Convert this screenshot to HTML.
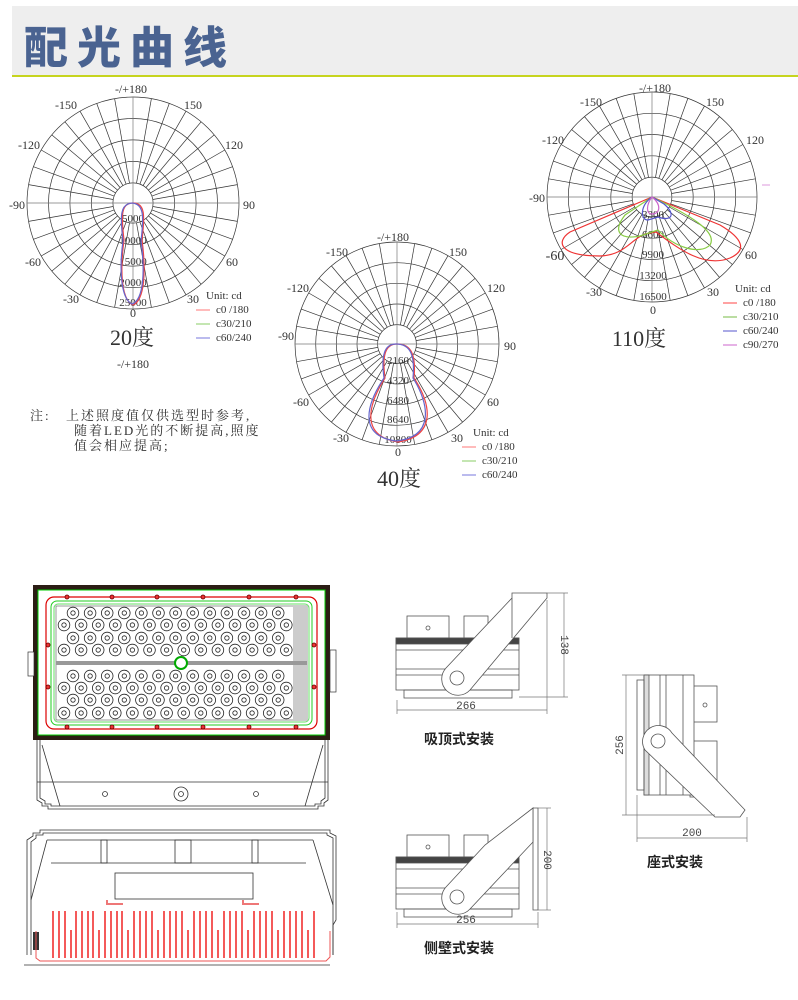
<!DOCTYPE html>
<html><head><meta charset="utf-8">
<style>
html,body{margin:0;padding:0;background:#fff;width:798px;height:1000px;overflow:hidden}
svg{display:block}
.t{font-family:"Liberation Serif","Noto Serif CJK SC",serif;fill:#333;font-size:12px}
.cjk{font-family:"Liberation Sans","Noto Sans CJK SC",sans-serif;font-weight:bold;fill:#222}
</style></head><body>
<svg id="s" width="798" height="1000" viewBox="0 0 798 1000" xmlns="http://www.w3.org/2000/svg">
<rect x="12" y="6" width="786" height="69" fill="#eeeeee"/>
<rect x="12" y="75" width="786" height="2" fill="#c6d41e"/>
<text x="24" y="63" style="font-family:'Noto Sans CJK SC',sans-serif;font-weight:900;font-size:44px;fill:#4a6391;letter-spacing:9px">配光曲线</text>
<g id="charts"></g>

<g class="t" text-anchor="middle">
<text x="131" y="93">-/+180</text><text x="66" y="109">-150</text><text x="193" y="109">150</text>
<text x="29" y="149">-120</text><text x="234" y="149">120</text><text x="17" y="209">-90</text><text x="249" y="209">90</text>
<text x="33" y="266">-60</text><text x="232" y="266">60</text><text x="71" y="303">-30</text><text x="193" y="303">30</text>
<text x="133" y="317">0</text>
<text x="133" y="368">-/+180</text>
<text x="393" y="241">-/+180</text><text x="337" y="256">-150</text><text x="458" y="256">150</text>
<text x="298" y="292">-120</text><text x="496" y="292">120</text><text x="286" y="340">-90</text><text x="510" y="350">90</text>
<text x="301" y="406">-60</text><text x="493" y="406">60</text><text x="341" y="442">-30</text><text x="457" y="442">30</text>
<text x="398" y="456">0</text>
<text x="655" y="92">-/+180</text><text x="591" y="106">-150</text><text x="715" y="106">150</text>
<text x="553" y="144">-120</text><text x="755" y="144">120</text><text x="537" y="202">-90</text>
<text x="555" y="260" style="font-size:14px">-60</text><text x="751" y="259">60</text><text x="594" y="296">-30</text><text x="713" y="296">30</text>
<text x="653" y="314">0</text>
</g>
<g class="t" text-anchor="middle" style="font-size:11px">
<text x="133" y="222">5000</text><text x="133" y="244">10000</text><text x="133" y="265">15000</text><text x="133" y="286">20000</text><text x="133" y="306">25000</text>
<text x="398" y="364">2160</text><text x="398" y="384">4320</text><text x="398" y="404">6480</text><text x="398" y="423">8640</text><text x="398" y="443">10800</text>
<text x="653" y="218">3300</text><text x="653" y="238">6600</text><text x="653" y="258">9900</text><text x="653" y="279">13200</text><text x="653" y="300">16500</text>
</g>
<g class="t" style="font-size:11px">
<text x="206" y="299">Unit: cd</text><text x="216" y="313">c0 /180</text><text x="216" y="327">c30/210</text><text x="216" y="341">c60/240</text>
<text x="473" y="436">Unit: cd</text><text x="482" y="450">c0 /180</text><text x="482" y="464">c30/210</text><text x="482" y="478">c60/240</text>
<text x="735" y="292">Unit: cd</text><text x="743" y="306">c0 /180</text><text x="743" y="320">c30/210</text><text x="743" y="334">c60/240</text><text x="743" y="348">c90/270</text>
</g>
<g stroke-width="1">
<line x1="196" y1="310" x2="210" y2="310" stroke="#f77"/><line x1="196" y1="324" x2="210" y2="324" stroke="#8c6"/><line x1="196" y1="338" x2="210" y2="338" stroke="#77d"/>
<line x1="462" y1="447" x2="476" y2="447" stroke="#f77"/><line x1="462" y1="461" x2="476" y2="461" stroke="#8c6"/><line x1="462" y1="475" x2="476" y2="475" stroke="#77d"/>
<line x1="723" y1="303" x2="737" y2="303" stroke="#f44"/><line x1="723" y1="317" x2="737" y2="317" stroke="#7b4"/><line x1="723" y1="331" x2="737" y2="331" stroke="#55c"/><line x1="723" y1="345" x2="737" y2="345" stroke="#c6c"/>
<line x1="762" y1="185" x2="770" y2="185" stroke="#d9d"/>
</g>
<g class="t" style="font-size:22px" text-anchor="middle">
<text x="132" y="345">20度</text><text x="399" y="486">40度</text><text x="639" y="346">110度</text>
</g>
<g class="t" style="font-size:13px;letter-spacing:2px">
<text x="30" y="420">注:</text>
<text x="66" y="420">上述照度值仅供选型时参考,</text>
<text x="74" y="435">随着LED光的不断提高,照度</text>
<text x="74" y="450">值会相应提高;</text>
</g>

<g fill="none" stroke-width="1.2">
<path d="M133,203 C121,203 121,215 124,240 C120,270 121,300 133,305 C145,300 146,270 142,240 C145,215 145,203 133,203" stroke="#e44"/>
<path d="M132,203 C120,204 120,216 123,241 C119,270 121,299 132,304 C144,300 145,270 141,241 C144,216 144,204 132,203" stroke="#66c"/>
<path d="M397,344 C385,344 382,356 385,378 C368,405 360,436 398,442 C436,436 432,405 414,378 C416,356 412,344 397,344" stroke="#e44"/>
<path d="M396,344 C384,344 381,356 384,378 C366,405 358,436 396,441 C434,437 430,405 413,378 C415,356 411,344 396,344" stroke="#66c"/>
<path d="M652,197 L570,232 C555,242 560,256 600,256 C625,255 630,240 645,234 L656,232 C680,250 705,268 730,258 C748,250 742,238 720,225 Z" stroke="#e33"/>
<path d="M652,197 L625,215 C612,232 620,240 640,236 L658,230 C675,248 700,255 710,245 C718,232 690,215 652,197 Z" stroke="#8c4"/>
<path d="M652,197 C640,205 640,220 648,220 L658,217 C672,222 676,214 664,204 Z" stroke="#55c"/>
<path d="M652,197 C646,205 646,214 652,214 C660,214 662,205 652,197 Z" stroke="#c6c"/>
</g>

<rect x="33" y="585" width="297" height="155" fill="#2b1d14"/>
<rect x="38" y="590" width="287" height="145" fill="#fff" stroke="#0c0" stroke-width="1"/>
<rect x="46" y="597" width="271" height="132" rx="8" fill="none" stroke="#d00" stroke-width="1.2"/>
<rect x="51" y="601" width="261" height="124" rx="6" fill="none" stroke="#2c2" stroke-width="1"/>
<rect x="54" y="604" width="255" height="118" rx="4" fill="none" stroke="#6d6" stroke-width="1"/>
<rect x="56" y="606" width="251" height="114" fill="#fff" stroke="#555" stroke-width="0.6"/>
<rect x="293" y="606" width="14" height="114" fill="#ccc"/>
<rect x="56" y="661" width="251" height="4" fill="#999"/>
<circle cx="181" cy="663" r="6" fill="#fff" stroke="#0a0" stroke-width="2"/>
<g id="leds" fill="none" stroke="#222" stroke-width="0.8"></g>
<rect x="28" y="652" width="6" height="24" fill="#fff" stroke="#333" stroke-width="0.7"/>
<rect x="330" y="650" width="6" height="42" fill="#fff" stroke="#333" stroke-width="0.7"/>
<g fill="none" stroke="#333" stroke-width="0.8">
<path d="M37,740 L37,800 L42,803 L42,806 L48,806 L48,809 L318,809 L318,806 L324,806 L324,803 L328,800 L328,740"/>
<path d="M40,740 L40,798 L45,801 L45,804 L51,804 L51,806 L315,806 L315,804 L321,804 L321,801 L325,798 L325,740"/>
<line x1="37" y1="782" x2="328" y2="782"/>
<line x1="42" y1="745" x2="60" y2="806"/><line x1="323" y1="745" x2="305" y2="806"/>
<circle cx="105" cy="794" r="2.5"/><circle cx="256" cy="794" r="2.5"/>
<circle cx="181" cy="794" r="7"/><circle cx="181" cy="794" r="2.5"/>
</g>
<g fill="none" stroke="#333" stroke-width="0.8">
<path d="M27,955 L27,840 L33,836 L33,833 L40,833 L40,830 L330,830 L330,833 L336,836 L336,920 L333,925 L333,955"/>
<path d="M31,955 L31,842 L36,838 L36,835 L43,835 L43,833 L327,833 L327,835 L333,838 L333,955"/>
<line x1="47" y1="840" x2="313" y2="840"/><line x1="51" y1="863" x2="306" y2="863"/>
<line x1="47" y1="840" x2="31" y2="900"/><line x1="313" y1="840" x2="333" y2="905"/>
<rect x="101" y="840" width="6" height="23"/><rect x="175" y="840" width="16" height="23"/><rect x="252" y="840" width="6" height="23"/>
<rect x="115" y="873" width="138" height="26"/>
<line x1="24" y1="965" x2="330" y2="965"/>
</g>
<rect x="33" y="932" width="6" height="18" fill="#333"/>
<g id="fins" stroke="#e00" stroke-width="1.3"></g>
<path d="M36,931 L36,958 L40,961 L326,961 L330,957 L330,931" fill="none" stroke="#e55" stroke-width="1"/>
<path d="M107,900 L107,904 L123,904 M243,900 L243,904 L259,904" stroke="#e77" stroke-width="2" fill="none"/>

<defs>
<g id="body" fill="none" stroke="#555" stroke-width="0.8">
<rect x="407" y="616" width="42" height="22"/><rect x="464" y="616" width="24" height="22"/>
<circle cx="428" cy="628" r="2"/>
<rect x="396" y="638" width="123" height="52" fill="#fff"/>
<rect x="396" y="638" width="123" height="6" fill="#444"/>
<line x1="396" y1="650" x2="519" y2="650"/><line x1="396" y1="669" x2="519" y2="669"/><line x1="396" y1="675" x2="519" y2="675"/>
<rect x="404" y="690" width="108" height="8"/>
</g>
</defs>
<use href="#body"/>
<g fill="#fff" stroke="#555" stroke-width="0.8">
<path d="M512,593 L547,593 L547,598 L470,690 A14,14 0 0 1 446,668 L512,598 Z"/>
<line x1="512" y1="598" x2="512" y2="638"/>
<circle cx="457" cy="678" r="7"/>
</g>
<g stroke="#777" stroke-width="0.7" fill="none">
<line x1="547" y1="593" x2="568" y2="593"/><line x1="519" y1="697" x2="568" y2="697"/>
<line x1="564" y1="593" x2="564" y2="697"/>
<line x1="397" y1="700" x2="397" y2="714"/><line x1="547" y1="600" x2="547" y2="714"/>
<line x1="397" y1="710" x2="547" y2="710"/>
</g>
<text x="466" y="709" text-anchor="middle" style="font-family:'Liberation Mono',monospace;font-size:11px;fill:#444">266</text>
<text transform="translate(561,645) rotate(90)" text-anchor="middle" style="font-family:'Liberation Mono',monospace;font-size:11px;fill:#444">138</text>
<text x="424" y="744" class="cjk" style="font-size:14px">吸顶式安装</text>

<use href="#body" transform="translate(0,219)"/>
<g fill="#fff" stroke="#555" stroke-width="0.8">
<path d="M533,808 L538,808 L538,910 L533,910 Z"/>
<path d="M533,808 L533,842 L470,909 A14,14 0 0 1 446,887 L485,845 Z"/>
<circle cx="457" cy="897" r="7"/>
</g>
<g stroke="#777" stroke-width="0.7" fill="none">
<line x1="538" y1="808" x2="551" y2="808"/><line x1="538" y1="910" x2="551" y2="910"/>
<line x1="547" y1="808" x2="547" y2="910"/>
<line x1="397" y1="912" x2="397" y2="928"/><line x1="538" y1="912" x2="538" y2="928"/>
<line x1="397" y1="924" x2="538" y2="924"/>
</g>
<text x="466" y="923" text-anchor="middle" style="font-family:'Liberation Mono',monospace;font-size:11px;fill:#444">256</text>
<text transform="translate(544,860) rotate(90)" text-anchor="middle" style="font-family:'Liberation Mono',monospace;font-size:11px;fill:#444">200</text>
<text x="424" y="953" class="cjk" style="font-size:14px">侧壁式安装</text>

<g fill="none" stroke="#555" stroke-width="0.8">
<rect x="690" y="686" width="27" height="36"/><rect x="690" y="741" width="27" height="56"/>
<circle cx="705" cy="705" r="2"/>
<rect x="644" y="675" width="50" height="120" fill="#fff"/>
<rect x="644" y="675" width="5" height="120" fill="#ddd"/>
<line x1="660" y1="675" x2="660" y2="795"/><line x1="666" y1="675" x2="666" y2="795"/><line x1="683" y1="675" x2="683" y2="795"/>
<rect x="637" y="680" width="7" height="110"/>
</g>
<g fill="#fff" stroke="#555" stroke-width="0.8">
<path d="M645,750 A14,14 0 0 1 672,733 L745,810 L740,817 L715,817 Z"/>
<circle cx="658" cy="741" r="7"/>
</g>
<g stroke="#777" stroke-width="0.7" fill="none">
<line x1="622" y1="675" x2="644" y2="675"/><line x1="622" y1="815" x2="715" y2="815"/>
<line x1="626" y1="675" x2="626" y2="815"/>
<line x1="637" y1="795" x2="637" y2="842"/><line x1="747" y1="817" x2="747" y2="842"/>
<line x1="637" y1="838" x2="747" y2="838"/>
</g>
<text x="692" y="836" text-anchor="middle" style="font-family:'Liberation Mono',monospace;font-size:11px;fill:#444">200</text>
<text transform="translate(623,745) rotate(-90)" text-anchor="middle" style="font-family:'Liberation Mono',monospace;font-size:11px;fill:#444">256</text>
<text x="647" y="867" class="cjk" style="font-size:14px">座式安装</text>
</svg>
<script>
var NS="http://www.w3.org/2000/svg";
function el(p,n,a){var e=document.createElementNS(NS,n);for(var k in a)e.setAttribute(k,a[k]);p.appendChild(e);return e;}
var ch=document.getElementById("charts");
[[133,203,106],[397,344,102],[652,197,105]].forEach(function(c){
 var cx=c[0],cy=c[1],R=c[2],r0=R*0.19;
 var g=el(ch,"g",{fill:"none",stroke:"#333","stroke-width":"0.7"});
 for(var i=1;i<=5;i++)el(g,"circle",{cx:cx,cy:cy,r:(r0+(R-r0)*(i-1)/4).toFixed(1)});
 for(var a=0;a<360;a+=10){var t=a*Math.PI/180;var s=(a%90==0)?0:r0;
  el(g,"line",{x1:(cx+s*Math.cos(t)).toFixed(1),y1:(cy+s*Math.sin(t)).toFixed(1),x2:(cx+R*Math.cos(t)).toFixed(1),y2:(cy+R*Math.sin(t)).toFixed(1),stroke:(a%90==0)?"#777":"#333"});}
});
var L=document.getElementById("leds");
var rows=[613,625,638,650,676,688,700,713];
rows.forEach(function(y,ri){var x0=(ri%2==0)?73:64;var n=(ri%2==0)?13:14;
 for(var i=0;i<n;i++){var x=x0+i*17.1;if(x>292)continue;el(L,"circle",{cx:x.toFixed(1),cy:y,r:5.8});el(L,"circle",{cx:x.toFixed(1),cy:y,r:2.2});}});
var bolts=[[67,597],[112,597],[157,597],[203,597],[249,597],[296,597],[67,727],[112,727],[157,727],[203,727],[249,727],[296,727],[48,645],[48,687],[314,645],[314,687]];
bolts.forEach(function(b){el(L,"circle",{cx:b[0],cy:b[1],r:2,fill:"#e33",stroke:"#600"});});
var F=document.getElementById("fins");
var fx=[53,59,65,71,76,82,88,93,99,105,111,117,122,128,134,140,146,152,158,164,170,176,182,188,194,200,206,212,218,224,230,236,242,248,254,260,266,272,278,284,290,296,302,308,314];
fx.forEach(function(x,i){var top=(i%5==3)?930:911;el(F,"line",{x1:x,y1:top,x2:x,y2:958});});
</script>
</body></html>
